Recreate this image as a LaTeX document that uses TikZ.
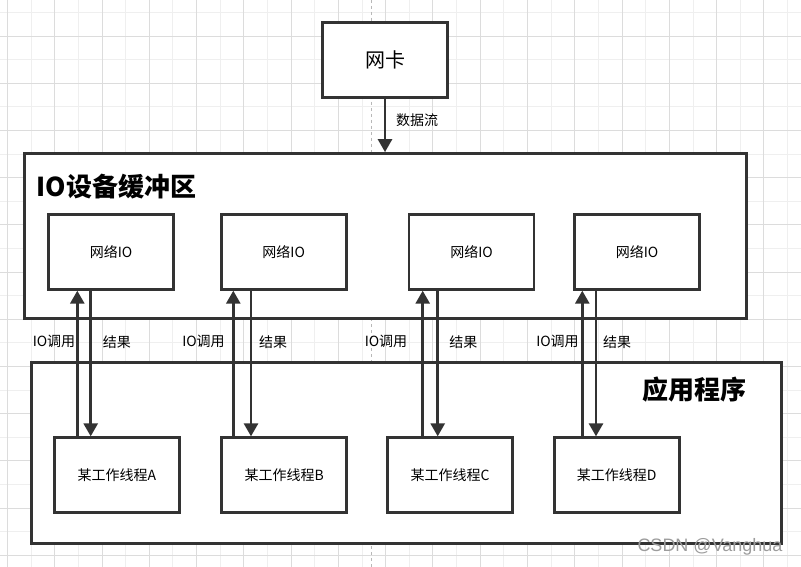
\documentclass[tikz,border=0pt]{standalone}
\usepackage{fontspec}
\setmainfont{Noto Sans CJK SC}
\newfontfamily\wmfont{Liberation Sans}
\usetikzlibrary{arrows.meta}
\definecolor{ink}{HTML}{333333}
\definecolor{gridA}{HTML}{DCDCDC}
\definecolor{gridB}{HTML}{EFEFEF}
\definecolor{wm}{HTML}{9C9C9C}

\begin{document}
\begin{tikzpicture}[x=1pt,y=-1pt,
    box/.style={draw=ink,line width=2.8pt,fill=white,minimum width=125pt,minimum height=75pt,inner sep=0pt,font=\fontsize{14}{16}\selectfont},
    frame/.style={draw=ink,line width=2.8pt,fill=white,inner sep=0pt},
    title/.style={anchor=west,inner sep=0pt,font=\fontsize{26}{30}\selectfont\bfseries},
    lbl/.style={inner sep=0pt,font=\fontsize{14}{16}\selectfont},
    arr/.style={draw=ink,line width=2.8pt,-{Triangle[width=14pt,length=13pt]}}]
  \useasboundingbox[fill=white] (0,0) rectangle (801,567);
  % background grid
  \foreach \k in {1,3,...,33} \draw[gridB,line width=0.7pt] ({7.3+23.64*\k},0) -- ({7.3+23.64*\k},567);
  \foreach \k in {0,2,...,22} \draw[gridB,line width=0.7pt] (0,{12.3+23.6*\k}) -- (801,{12.3+23.6*\k});
  \foreach \k in {0,2,...,32} \draw[gridA,line width=0.7pt] ({7.3+23.64*\k},0) -- ({7.3+23.64*\k},567);
  \foreach \k in {1,3,...,23} \draw[gridA,line width=0.7pt] (0,{12.3+23.6*\k}) -- (801,{12.3+23.6*\k});
  \draw[black!28,line width=0.8pt,dash pattern=on 3pt off 3pt] (371.7,0) -- (371.7,567);

  \node[box,font=\fontsize{20}{24}\selectfont] (nic) at (385,60.2) {网卡};
  \node[frame,minimum width=721.8pt,minimum height=165.2pt] (buf) at (385.4,236.1) {};
  \node[title] (buftitle) at (36.5,187) {IO设备缓冲区};
  \node[frame,minimum width=749.7pt,minimum height=180.7pt] (app) at (406.35,452.85) {};
  \node[title] (apptitle) at (642,390) {应用程序};

  \draw[arr] (nic.south) -- (nic.south |- buf.north);
  \node[lbl] (flow) at (417,120) {数据流};

  \foreach \n/\x in {A/111.1,B/283.7,C/471.5,D/637}
    \node[box] (io\n) at (\x,251.8) {网络IO};
  \foreach \n/\x in {A/117,B/284.2,C/450,D/616.7}
    \node[box,minimum height=74.5pt] (t\n) at (\x,475) {某工作线程\n};

  \foreach \n/\u/\d in {A/77.3/90.7,B/233.3/251,C/422.7/437.7,D/582.3/596} {
    \coordinate (up\n) at (\u,0);
    \coordinate (dn\n) at (\d,0);
    \draw[arr] (t\n.north -| up\n) -- (io\n.south -| up\n);
    \draw[arr] (io\n.south -| dn\n) -- (t\n.north -| dn\n);
  }
  \foreach \n/\a/\b in {A/54/116.8,B/203.5/273,C/386/463.3,D/557.5/617.2} {
    \node[lbl] (call\n) at (\a,341.7) {IO调用};
    \node[lbl] (res\n) at (\b,341.7) {结果};
  }

  \node[font=\wmfont\fontsize{18}{20}\selectfont,text=wm,inner sep=0pt] (mark) at (710,547) {CSDN @Vanghua};
\end{tikzpicture}
\end{document}
